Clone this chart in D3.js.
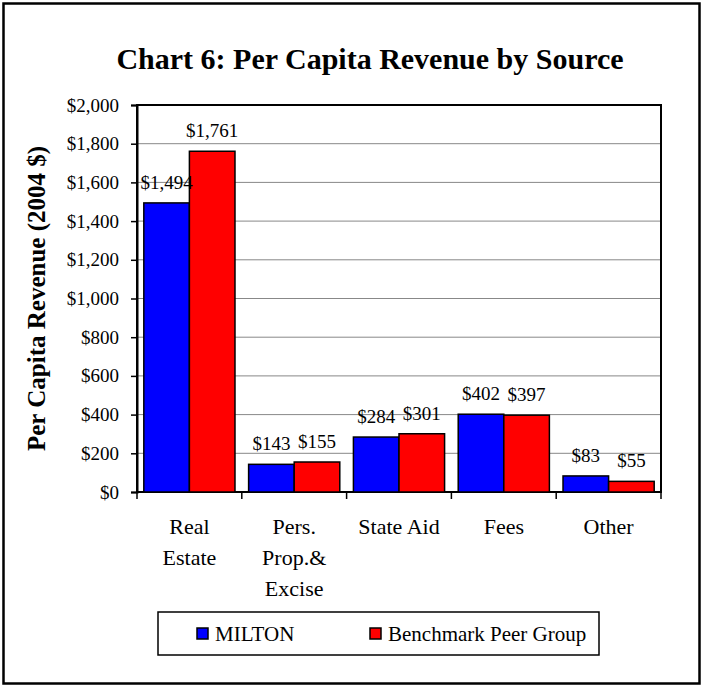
<!DOCTYPE html>
<html>
<head>
<meta charset="utf-8">
<script src="https://cdn.jsdelivr.net/npm/d3@7"></script>
<style>
  html, body { margin: 0; padding: 0; background: #fff; }
</style>
</head>
<body>
<svg id="chart" width="703" height="687"></svg>
<script>
// Revenue sources (multi-line category labels)
const categories = ["Real\nEstate", "Pers.\nProp.&\nExcise", "State Aid", "Fees", "Other"];
const seriesNames = ["MILTON", "Benchmark Peer Group"];
const seriesColors = ["#0000ff", "#ff0000"];
const miltonValues = [1494, 143, 284, 402, 83];
const peerValues = [1761, 155, 301, 397, 55];
const yTickValues = [0, 200, 400, 600, 800, 1000, 1200, 1400, 1600, 1800, 2000];

const titleText = "Chart 6: Per Capita Revenue by Source";
const yAxisTitle = "Per Capita Revenue (2004 $)";

const FONT = "'Liberation Serif', 'Times New Roman', Times, serif";
const W = 703, H = 687;
const plot = { left: 137, right: 661, top: 105, bottom: 492 };

const svg = d3.select("#chart").attr("font-family", FONT);

// outer chart border
svg.append("rect")
  .attr("x", 3.5).attr("y", 3.5)
  .attr("width", W - 7).attr("height", H - 7)
  .attr("fill", "#fff").attr("stroke", "#000").attr("stroke-width", 2.5);

// title
svg.append("text")
  .attr("x", 370).attr("y", 69)
  .attr("text-anchor", "middle")
  .attr("font-family", FONT)
  .style("font-size", "30px").style("font-weight", "bold")
  .text(titleText);

const x0 = d3.scaleBand()
  .domain(categories)
  .range([plot.left, plot.right])
  .paddingInner(0.13)
  .paddingOuter(0.065);

const step = (plot.right - plot.left) / categories.length;

const x1 = d3.scaleBand()
  .domain(seriesNames)
  .range([0, x0.bandwidth()]);

const y = d3.scaleLinear().domain([0, 2000]).range([plot.bottom, plot.top]);

// gridlines
svg.append("g")
  .selectAll("line")
  .data(yTickValues.filter(v => v > 0 && v < 2000))
  .join("line")
  .attr("x1", plot.left).attr("x2", plot.right)
  .attr("y1", d => y(d)).attr("y2", d => y(d))
  .attr("stroke", "#888").attr("stroke-width", 1);

// plot area frame
svg.append("rect")
  .attr("x", plot.left).attr("y", plot.top)
  .attr("width", plot.right - plot.left).attr("height", plot.bottom - plot.top)
  .attr("fill", "none").attr("stroke", "#000").attr("stroke-width", 2);

// y axis
const yAxis = d3.axisLeft(y)
  .tickValues(yTickValues)
  .tickSize(6)
  .tickPadding(12)
  .tickFormat(d => "$" + d3.format(",")(d));

const yg = svg.append("g")
  .attr("transform", `translate(${plot.left},0)`)
  .call(yAxis)
  .attr("font-family", FONT)
  .attr("font-size", 19);
yg.select(".domain").attr("stroke", "#000").attr("stroke-width", 2);
yg.selectAll(".tick line").attr("stroke", "#000").attr("stroke-width", 1.5);
yg.selectAll(".tick text").attr("fill", "#000");

// x axis: category boundary ticks
const xg = svg.append("g").attr("font-family", FONT);
xg.append("line")
  .attr("x1", plot.left).attr("x2", plot.right)
  .attr("y1", plot.bottom).attr("y2", plot.bottom)
  .attr("stroke", "#000").attr("stroke-width", 2);
xg.selectAll("line.sep")
  .data(d3.range(categories.length + 1))
  .join("line")
  .attr("class", "sep")
  .attr("x1", i => plot.left + i * step).attr("x2", i => plot.left + i * step)
  .attr("y1", plot.bottom).attr("y2", plot.bottom + 7)
  .attr("stroke", "#000").attr("stroke-width", 1.5);

// category labels
const catLabels = xg.selectAll("text.cat")
  .data(categories)
  .join("text")
  .attr("class", "cat")
  .attr("text-anchor", "middle")
  .attr("font-family", FONT)
  .attr("transform", d => `translate(${x0(d) + x0.bandwidth() / 2},534)`)
  .style("font-size", "22px");
catLabels.each(function(d) {
  d.split("\n").forEach((line, i) => {
    d3.select(this).append("tspan").attr("x", 0).attr("y", i * 31).text(line);
  });
});

// bars
const rows = categories.map((c, i) => ({
  category: c,
  values: [miltonValues[i], peerValues[i]]
}));

const groups = svg.append("g")
  .selectAll("g")
  .data(rows)
  .join("g")
  .attr("transform", d => `translate(${x0(d.category)},0)`);

groups.selectAll("rect")
  .data(d => d.values.map((v, j) => ({ name: seriesNames[j], value: v, color: seriesColors[j] })))
  .join("rect")
  .attr("x", d => x1(d.name))
  .attr("y", d => y(d.value))
  .attr("width", x1.bandwidth())
  .attr("height", d => y(0) - y(d.value))
  .attr("fill", d => d.color)
  .attr("stroke", "#000")
  .attr("stroke-width", 1.5);

// value labels
groups.selectAll("text")
  .data(d => d.values.map((v, j) => ({ name: seriesNames[j], value: v })))
  .join("text")
  .attr("x", d => x1(d.name) + x1.bandwidth() / 2)
  .attr("y", d => y(d.value) - 14)
  .attr("text-anchor", "middle")
  .attr("font-family", FONT)
  .style("font-size", "19px")
  .text(d => "$" + d3.format(",")(d.value));

// y axis title
svg.append("text")
  .attr("transform", `translate(45,${(plot.top + plot.bottom) / 2}) rotate(-90)`)
  .attr("text-anchor", "middle")
  .attr("font-family", FONT)
  .style("font-size", "25px").style("font-weight", "bold")
  .text(yAxisTitle);

// legend
const legend = svg.append("g").attr("font-family", FONT);
legend.append("rect")
  .attr("x", 158).attr("y", 612).attr("width", 441).attr("height", 43)
  .attr("fill", "#fff").attr("stroke", "#000").attr("stroke-width", 1.5);
const legendItemX = [197, 370];
seriesNames.forEach((name, i) => {
  legend.append("rect")
    .attr("x", legendItemX[i]).attr("y", 628)
    .attr("width", 11).attr("height", 11)
    .attr("fill", seriesColors[i]).attr("stroke", "#000").attr("stroke-width", 1.5);
  legend.append("text")
    .attr("x", legendItemX[i] + 18).attr("y", 641)
    .style("font-size", "21px")
    .text(name);
});
</script>
</body>
</html>
